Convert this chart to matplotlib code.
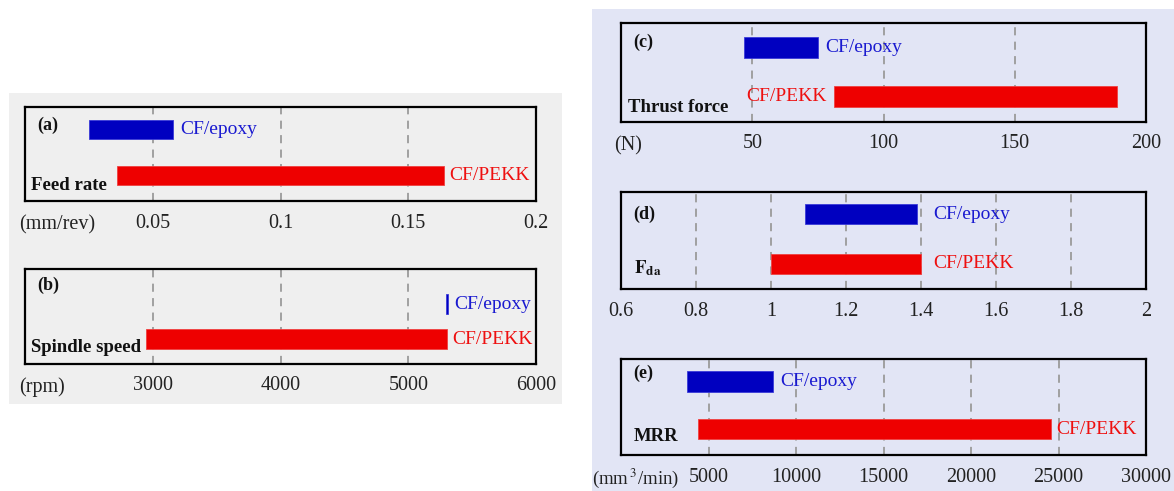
import matplotlib
matplotlib.use("Agg")
import matplotlib.pyplot as plt
from matplotlib.patches import Rectangle

plt.rcParams['font.family'] = ['Liberation Serif', 'DejaVu Serif']
plt.rcParams['mathtext.fontset'] = 'stix'

# ---------------- data ----------------
materials = ["CF/epoxy", "CF/PEKK"]

feed_rate_epoxy = [0.025, 0.058]
feed_rate_pekk = [0.036, 0.164]
feed_ticks = [0.05, 0.1, 0.15, 0.2]
feed_ticklabels = ["0.05", "0.1", "0.15", "0.2"]

spindle_epoxy = [5292, 5308]
spindle_pekk = [2950, 5300]
spindle_ticks = [3000, 4000, 5000, 6000]
spindle_ticklabels = ["3000", "4000", "5000", "6000"]

thrust_epoxy = [47, 75]
thrust_pekk = [81, 189]
thrust_ticks = [50, 100, 150, 200]
thrust_ticklabels = ["50", "100", "150", "200"]

fda_epoxy = [1.09, 1.39]
fda_pekk = [1.0, 1.4]
fda_ticks = [0.6, 0.8, 1.0, 1.2, 1.4, 1.6, 1.8, 2.0]
fda_ticklabels = ["0.6", "0.8", "1", "1.2", "1.4", "1.6", "1.8", "2"]

mrr_epoxy = [3750, 8700]
mrr_pekk = [4400, 24550]
mrr_ticks = [5000, 10000, 15000, 20000, 25000, 30000]
mrr_ticklabels = ["5000", "10000", "15000", "20000", "25000", "30000"]

# ---------------- figure ----------------
W, H = 1174, 491
fig = plt.figure(figsize=(W / 100, H / 100), dpi=100)
fig.patch.set_facecolor('white')


def px_rect(x0, y0, x1, y1):
    return [x0 / W, 1 - y1 / H, (x1 - x0) / W, (y1 - y0) / H]


# background panels
gx, gy, gw, gh = px_rect(9, 93, 562, 404)
fig.patches.append(Rectangle((gx, gy), gw, gh, transform=fig.transFigure,
                             facecolor='#efefef', edgecolor='none', zorder=-10))
lx, ly, lw_, lh = px_rect(592, 9, 1174, 491)
fig.patches.append(Rectangle((lx, ly), lw_, lh, transform=fig.transFigure,
                             facecolor='#e2e5f5', edgecolor='none', zorder=-10))

BLUE = '#0000c0'
RED = '#ee0000'
TBLUE = '#1a1ad0'
TRED = '#ee1010'

FS = 14
TFS = 14.5

panels = [
    dict(rect=(25, 107, 536, 201), xlim=(0, 0.2), epoxy=feed_rate_epoxy, pekk=feed_rate_pekk,
         ticks=feed_ticks, ticklabels=feed_ticklabels, letter="(a)", letter_y=0.80,
         name="Feed rate", name_x=0.012, name_y=0.16, unit="(mm/rev)", unit_x=-0.012,
         unit_fs=TFS, ye=0.76, yp=0.27, pekk_side='right', fda=False),
    dict(rect=(25, 269, 536, 364), xlim=(2000, 6000), epoxy=spindle_epoxy, pekk=spindle_pekk,
         ticks=spindle_ticks, ticklabels=spindle_ticklabels, letter="(b)", letter_y=0.83,
         name="Spindle speed", name_x=0.012, name_y=0.17, unit="(rpm)", unit_x=-0.012,
         unit_fs=TFS, ye=0.63, yp=0.26, pekk_side='right', fda=False),
    dict(rect=(621, 23, 1146, 122), xlim=(0, 200), epoxy=thrust_epoxy, pekk=thrust_pekk,
         ticks=thrust_ticks, ticklabels=thrust_ticklabels, letter="(c)", letter_y=0.80,
         name="Thrust force", name_x=0.014, name_y=0.15, unit="(N)", unit_x=-0.014,
         unit_fs=TFS, ye=0.75, yp=0.26, pekk_side='left', fda=False),
    dict(rect=(621, 192, 1146, 289), xlim=(0.6, 2.0), epoxy=fda_epoxy, pekk=fda_pekk,
         ticks=fda_ticks, ticklabels=fda_ticklabels, letter="(d)", letter_y=0.77,
         name=r"$\mathbf{F}_{\mathbf{da}}$", name_x=0.024, name_y=0.22, unit=None, unit_x=0,
         unit_fs=TFS, ye=0.77, yp=0.26, pekk_side='right', fda=True),
    dict(rect=(621, 359, 1146, 455), xlim=(0, 30000), epoxy=mrr_epoxy, pekk=mrr_pekk,
         ticks=mrr_ticks, ticklabels=mrr_ticklabels, letter="(e)", letter_y=0.85,
         name="MRR", name_x=0.024, name_y=0.19, unit=r"(mm$\,^{3}$/min)", unit_x=-0.055,
         unit_fs=13.5, ye=0.765, yp=0.27, pekk_side='right', fda=False),
]

BAR_H = 0.21

for p in panels:
    ax = fig.add_axes(px_rect(*p['rect']))
    ax.set_zorder(1)
    ax.set_facecolor('none')
    ax.set_xlim(*p['xlim'])
    ax.set_ylim(0, 1)
    ax.set_yticks([])
    ax.set_xticks(p['ticks'])
    ax.set_xticklabels(p['ticklabels'], fontsize=TFS, color='#222222')
    ax.tick_params(axis='x', length=0, pad=9)
    ax.grid(axis='x', linestyle=(0, (4.5, 3.5)), color='#9a9a9a', linewidth=1.3, zorder=0)
    ax.set_axisbelow(True)
    for s in ax.spines.values():
        s.set_linewidth(1.6)
        s.set_color('black')
        s.set_zorder(5)

    e0, e1 = p['epoxy']
    k0, k1 = p['pekk']
    ax.barh(p['ye'], e1 - e0, left=e0, height=BAR_H, color=BLUE,
            edgecolor='#3a3ad8', linewidth=0.6, zorder=3)
    ax.barh(p['yp'], k1 - k0, left=k0, height=BAR_H, color=RED,
            edgecolor='#f04040', linewidth=0.6, zorder=3)

    if p['fda']:
        xr = max(e1, k1)
        ax.annotate(materials[0], xy=(xr, p['ye']), xytext=(9, 0), textcoords='offset points',
                    ha='left', va='center', fontsize=FS, color=TBLUE)
        ax.annotate(materials[1], xy=(xr, p['yp']), xytext=(9, 0), textcoords='offset points',
                    ha='left', va='center', fontsize=FS, color=TRED)
    else:
        ax.annotate(materials[0], xy=(e1, p['ye']), xytext=(5, 0), textcoords='offset points',
                    ha='left', va='center', fontsize=FS, color=TBLUE)
        if p['pekk_side'] == 'right':
            ax.annotate(materials[1], xy=(k1, p['yp']), xytext=(4, 0), textcoords='offset points',
                        ha='left', va='center', fontsize=FS, color=TRED)
        else:
            ax.annotate(materials[1], xy=(k0, p['yp']), xytext=(-5, 0), textcoords='offset points',
                        ha='right', va='center', fontsize=FS, color=TRED)

    ax.text(0.024, p['letter_y'], p['letter'], transform=ax.transAxes, ha='left', va='center',
            fontsize=13, fontweight='bold', color='#111111')
    ax.text(p['name_x'], p['name_y'], p['name'], transform=ax.transAxes, ha='left', va='center',
            fontsize=13.5, fontweight='bold', color='#111111')
    if p['unit']:
        ax.annotate(p['unit'], xy=(p['unit_x'], 0), xycoords='axes fraction',
                    xytext=(0, -17), textcoords='offset points', ha='left', va='center',
                    fontsize=p['unit_fs'], color='#222222')

fig.savefig("out.png", dpi=100)
